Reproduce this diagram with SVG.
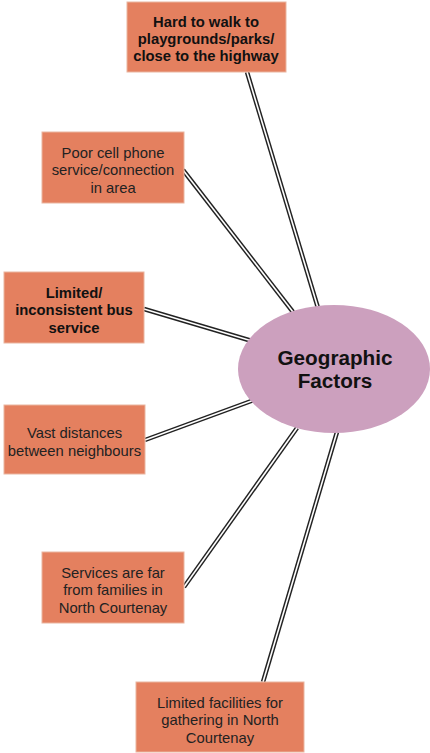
<svg xmlns="http://www.w3.org/2000/svg" width="430" height="753" viewBox="0 0 430 753">
<style>
.box{fill:#e4805f;stroke:#eab5a0;stroke-width:1}
.t{font-family:"Liberation Sans",Arial,sans-serif;font-size:14.8px;fill:#222;text-anchor:middle}
.b{font-weight:bold;fill:#111}
.c{font-size:20.7px}
.o{stroke:#222;stroke-width:4.5;fill:none}
.i{stroke:#fff;stroke-width:1.6;fill:none}
</style>
<rect width="430" height="753" fill="#fff"/>
<g id="connectors">
<g class="o">
<line x1="247" y1="72" x2="318" y2="308"/>
<line x1="183" y1="170" x2="293" y2="312"/>
<line x1="144" y1="309" x2="252" y2="341"/>
<line x1="145" y1="440" x2="254" y2="400"/>
<line x1="184" y1="587" x2="297" y2="428"/>
<line x1="263" y1="682" x2="337" y2="432"/>
</g>
<g class="i">
<line x1="247" y1="72" x2="318" y2="308"/>
<line x1="183" y1="170" x2="293" y2="312"/>
<line x1="144" y1="309" x2="252" y2="341"/>
<line x1="145" y1="440" x2="254" y2="400"/>
<line x1="184" y1="587" x2="297" y2="428"/>
<line x1="263" y1="682" x2="337" y2="432"/>
</g>
</g>
<g id="center">
<ellipse cx="334" cy="369" rx="96" ry="64" fill="#cca0be"/>
<text class="t b c" x="335" y="365">Geographic</text>
<text class="t b c" x="335" y="388">Factors</text>
</g>
<g id="n1">
<rect class="box" x="127" y="2" width="159" height="70"/>
<text class="t b" x="206" y="27">Hard to walk to</text>
<text class="t b" x="206" y="44">playgrounds/parks/</text>
<text class="t b" x="206" y="61">close to the highway</text>
</g>
<g id="n2">
<rect class="box" x="42" y="132" width="142" height="71"/>
<text class="t" x="113" y="158">Poor cell phone</text>
<text class="t" x="113" y="175">service/connection</text>
<text class="t" x="113" y="193">in area</text>
</g>
<g id="n3">
<rect class="box" x="4" y="272" width="140" height="71"/>
<text class="t b" x="74" y="298">Limited/</text>
<text class="t b" x="74" y="315">inconsistent bus</text>
<text class="t b" x="74" y="333">service</text>
</g>
<g id="n4">
<rect class="box" x="4" y="405" width="141" height="69"/>
<text class="t" x="74.5" y="438">Vast distances</text>
<text class="t" x="74.5" y="456">between neighbours</text>
</g>
<g id="n5">
<rect class="box" x="42" y="552" width="142" height="71"/>
<text class="t" x="113" y="578">Services are far</text>
<text class="t" x="113" y="595">from families in</text>
<text class="t" x="113" y="613">North Courtenay</text>
</g>
<g id="n6">
<rect class="box" x="136" y="682" width="168" height="70"/>
<text class="t" x="220" y="708">Limited facilities for</text>
<text class="t" x="220" y="725">gathering in North</text>
<text class="t" x="220" y="743">Courtenay</text>
</g>
</svg>
